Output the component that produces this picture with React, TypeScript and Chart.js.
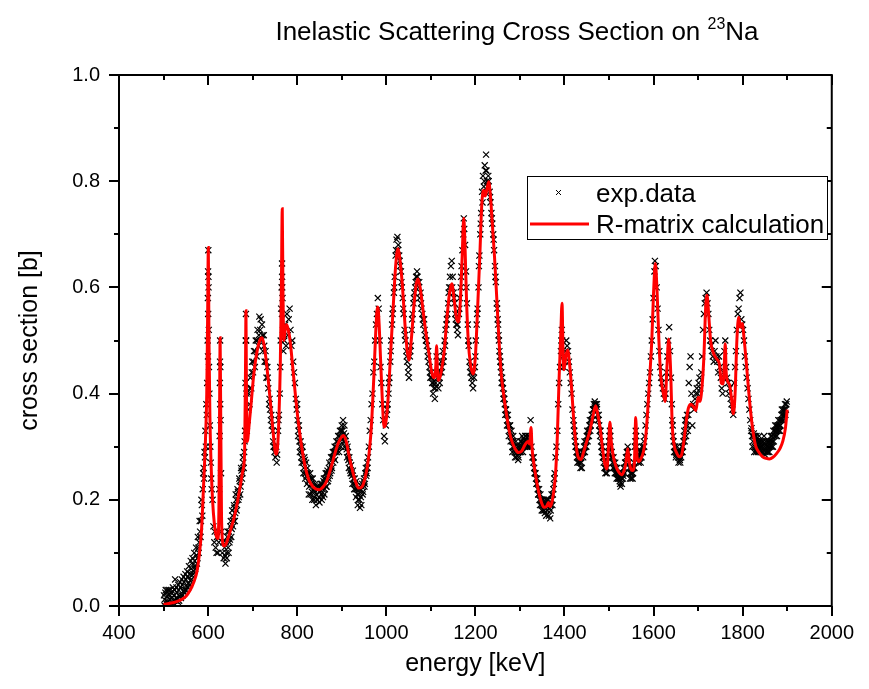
import React, { useEffect, useRef } from "react";
import { Chart, registerables } from "chart.js";

Chart.register(...registerables);

const FONT = '"Liberation Sans", Arial, Helvetica, sans-serif';

const titleMain = "Inelastic Scattering Cross Section on ";
const titleSup = "23";
const titleEnd = "Na";
const xTitle = "energy [keV]";
const yTitle = "cross section [b]";
const legendLabels = ["exp.data", "R-matrix calculation"];

const xMajor = [400, 600, 800, 1000, 1200, 1400, 1600, 1800, 2000];
const xMinor = [500, 700, 900, 1100, 1300, 1500, 1700, 1900];
const yMajor = [0, 0.2, 0.4, 0.6, 0.8, 1.0];
const yMinor = [0.1, 0.3, 0.5, 0.7, 0.9];

// R-matrix calculation (red line)
const calcEnergy = [
  500, 520, 535, 550, 560, 568, 575, 580, 585, 590, 594, 597, 599, 600.5, 602, 604, 607, 610, 614, 618,
  622, 624.5, 626, 627, 628, 630, 632, 636, 640, 645, 650, 658, 665, 672, 678, 682, 684, 685, 686, 688,
  692, 697, 703, 710, 716, 721, 726, 732, 738, 743, 748, 752, 756, 759, 762, 764.5, 766.5, 768, 770, 773,
  776, 780, 784, 790, 795, 802, 810, 818, 826, 835, 843, 850, 858, 866, 875, 883, 890, 897, 904, 910,
  916, 922, 930, 938, 945, 952, 958, 964, 968, 972, 976, 979, 981, 984, 987, 991, 995, 999, 1004, 1010,
  1016, 1021, 1026, 1031, 1036, 1042, 1047, 1051, 1056, 1062, 1067, 1071, 1076, 1082, 1088, 1095, 1102, 1107, 1111, 1113,
  1115, 1118, 1123, 1130, 1136, 1142, 1147, 1152, 1157, 1162, 1166, 1170, 1174, 1177, 1180, 1184, 1189, 1195, 1200, 1205,
  1210, 1214, 1218, 1222, 1226, 1230, 1234, 1238, 1243, 1248, 1253, 1258, 1264, 1270, 1276, 1282, 1290, 1297, 1304, 1311,
  1318, 1322, 1325, 1327, 1331, 1336, 1342, 1348, 1354, 1360, 1364, 1367, 1370, 1375, 1380, 1384, 1388, 1392, 1394.5, 1397,
  1399, 1403, 1407, 1411, 1416, 1420, 1425, 1431, 1437, 1443, 1450, 1457, 1464, 1470, 1475, 1480, 1485, 1490, 1495, 1499,
  1502, 1505, 1510, 1516, 1522, 1528, 1534, 1538, 1542, 1545, 1549, 1553, 1557, 1560, 1563, 1567, 1572, 1577, 1582, 1587,
  1592, 1596, 1600, 1604, 1608, 1612, 1616, 1621, 1626, 1630, 1634, 1638, 1642, 1647, 1652, 1658, 1663, 1668, 1673, 1678,
  1684, 1690, 1695, 1700, 1704, 1709, 1713, 1717, 1720, 1724, 1728, 1735, 1742, 1748, 1752, 1756, 1759, 1761, 1763, 1767,
  1771, 1775, 1779, 1783, 1787, 1791, 1795, 1799, 1803, 1808, 1813, 1818, 1823, 1829, 1836, 1845, 1853, 1860, 1868, 1876,
  1884, 1890, 1896, 1900,
];
const calcSigma = [
  0.003, 0.006, 0.01, 0.018, 0.03, 0.045, 0.065, 0.095, 0.14, 0.23, 0.31, 0.4, 0.55, 0.675, 0.5, 0.36, 0.26, 0.2, 0.155, 0.133,
  0.127, 0.2, 0.4, 0.505, 0.4, 0.18, 0.125, 0.113, 0.116, 0.128, 0.142, 0.165, 0.192, 0.225, 0.255, 0.29, 0.45, 0.556, 0.42, 0.31,
  0.34, 0.385, 0.44, 0.48, 0.5, 0.505, 0.49, 0.45, 0.4, 0.355, 0.31, 0.286, 0.3, 0.355, 0.45, 0.6, 0.748, 0.6, 0.5, 0.52,
  0.53, 0.52, 0.5, 0.45, 0.406, 0.35, 0.3, 0.262, 0.238, 0.225, 0.22, 0.219, 0.224, 0.235, 0.258, 0.282, 0.302, 0.315, 0.321, 0.31,
  0.285, 0.262, 0.237, 0.222, 0.224, 0.24, 0.265, 0.31, 0.36, 0.43, 0.51, 0.555, 0.563, 0.53, 0.468, 0.39, 0.337, 0.345, 0.39, 0.48,
  0.57, 0.64, 0.673, 0.65, 0.605, 0.53, 0.48, 0.463, 0.5, 0.565, 0.605, 0.616, 0.6, 0.56, 0.52, 0.48, 0.44, 0.43, 0.45, 0.49,
  0.44, 0.425, 0.44, 0.48, 0.54, 0.59, 0.607, 0.58, 0.545, 0.535, 0.57, 0.65, 0.73, 0.67, 0.58, 0.5, 0.455, 0.437, 0.47, 0.56,
  0.66, 0.75, 0.783, 0.772, 0.785, 0.799, 0.77, 0.72, 0.657, 0.58, 0.5, 0.437, 0.395, 0.36, 0.33, 0.31, 0.295, 0.289, 0.292, 0.303,
  0.31, 0.305, 0.336, 0.3, 0.27, 0.242, 0.215, 0.196, 0.186, 0.188, 0.195, 0.187, 0.19, 0.21, 0.25, 0.32, 0.43, 0.52, 0.57, 0.47,
  0.445, 0.47, 0.482, 0.46, 0.41, 0.36, 0.31, 0.28, 0.276, 0.29, 0.31, 0.33, 0.358, 0.377, 0.36, 0.336, 0.3, 0.27, 0.258, 0.3,
  0.346, 0.31, 0.28, 0.262, 0.252, 0.247, 0.255, 0.27, 0.296, 0.275, 0.258, 0.255, 0.27, 0.355, 0.28, 0.272, 0.278, 0.29, 0.315, 0.37,
  0.44, 0.5, 0.59, 0.645, 0.59, 0.5, 0.435, 0.405, 0.385, 0.45, 0.503, 0.45, 0.34, 0.3, 0.288, 0.281, 0.285, 0.31, 0.345, 0.372,
  0.38, 0.375, 0.368, 0.393, 0.385, 0.415, 0.47, 0.563, 0.585, 0.545, 0.5, 0.475, 0.465, 0.455, 0.42, 0.418, 0.46, 0.494, 0.44, 0.422,
  0.415, 0.39, 0.362, 0.4, 0.5, 0.544, 0.525, 0.532, 0.505, 0.46, 0.41, 0.365, 0.33, 0.302, 0.29, 0.281, 0.278, 0.277, 0.28, 0.287,
  0.297, 0.31, 0.335, 0.37,
];

// experimental data (black crosses): [energy keV, cross section b]
const expPoints: [number, number][] = [
  [502,0.012],[504,0.025],[506,0.005],[508,0.018],[510,0.008],[512,0.022],[514,0.012],[516,0.003],[518,0.015],[520,0.028],
  [522,0.01],[524,0.02],[526,0.05],[528,0.015],[530,0.025],[532,0.008],[534,0.03],[536,0.018],[538,0.035],[540,0.02],
  [542,0.04],[544,0.028],[546,0.045],[548,0.03],[550,0.05],[552,0.036],[554,0.055],[556,0.042],[558,0.06],[560,0.048],
  [562,0.07],[564,0.058],[566,0.078],[568,0.065],[570,0.085],[572,0.075],[574,0.095],[576,0.09],[578,0.11],[580,0.12],
  [582,0.14],[584,0.16],[586,0.19],[588,0.22],[590,0.26],[591,0.24],[592,0.29],[593,0.28],[594,0.33],[595,0.3],
  [596,0.38],[597,0.36],[598,0.42],[599,0.5],[599.5,0.58],[599.8,0.47],[600,0.63],[600.2,0.55],[600.5,0.67],[600.8,0.62],
  [601,0.6],[601.5,0.52],[602,0.45],[603,0.4],[604,0.34],[605,0.3],[606,0.27],[607,0.24],[608,0.22],[610,0.2],
  [612,0.15],[614,0.12],[615,0.14],[617,0.11],[619,0.1],[620,0.13],[622,0.1],[624,0.12],[625,0.22],[626,0.32],
  [626.5,0.42],[626.8,0.46],[627,0.5],[627.2,0.38],[627.5,0.45],[628,0.35],[629,0.25],[630,0.14],[632,0.1],[634,0.12],
  [635,0.09],[637,0.11],[638,0.095],[640,0.12],[641,0.1],[643,0.13],[645,0.11],[647,0.14],[649,0.125],[651,0.16],
  [653,0.145],[655,0.17],[657,0.16],[659,0.185],[661,0.175],[663,0.2],[665,0.19],[667,0.215],[669,0.205],[671,0.235],
  [673,0.225],[675,0.255],[677,0.25],[679,0.27],[681,0.29],[683,0.33],[684,0.42],[684.5,0.5],[685,0.55],[685.5,0.5],
  [686,0.4],[687,0.33],[689,0.35],[691,0.4],[693,0.38],[695,0.43],[697,0.41],[699,0.46],[701,0.44],[703,0.48],
  [705,0.45],[707,0.5],[709,0.47],[711,0.52],[713,0.49],[715,0.545],[717,0.52],[719,0.5],[721,0.53],[723,0.48],
  [725,0.51],[727,0.46],[729,0.48],[731,0.43],[733,0.45],[735,0.41],[737,0.38],[739,0.37],[741,0.35],[743,0.34],
  [745,0.33],[747,0.3],[749,0.29],[751,0.28],[753,0.3],[755,0.285],[757,0.33],[759,0.36],[761,0.4],[762,0.45],
  [763,0.5],[764,0.56],[765,0.6],[765.8,0.55],[766,0.645],[766.2,0.62],[766.5,0.6],[767,0.58],[768,0.52],[769,0.48],
  [771,0.5],[773,0.53],[775,0.49],[777,0.55],[779,0.51],[781,0.54],[783,0.56],[785,0.52],[787,0.49],[789,0.5],
  [791,0.46],[793,0.44],[795,0.42],[797,0.39],[799,0.37],[801,0.35],[803,0.33],[805,0.31],[807,0.3],[809,0.28],
  [811,0.29],[813,0.27],[815,0.26],[817,0.275],[819,0.25],[821,0.245],[823,0.26],[825,0.235],[827,0.225],[829,0.25],
  [831,0.23],[833,0.215],[835,0.24],[837,0.22],[839,0.205],[841,0.23],[843,0.21],[845,0.2],[847,0.225],[849,0.205],
  [851,0.215],[853,0.23],[855,0.2],[857,0.22],[859,0.235],[861,0.21],[863,0.24],[865,0.225],[867,0.25],[869,0.235],
  [871,0.26],[873,0.245],[875,0.265],[877,0.255],[879,0.28],[881,0.27],[883,0.29],[885,0.275],[887,0.3],[889,0.29],
  [891,0.31],[893,0.3],[895,0.32],[897,0.31],[899,0.33],[901,0.315],[903,0.35],[905,0.325],[907,0.31],[909,0.32],
  [911,0.295],[913,0.3],[915,0.275],[917,0.28],[919,0.255],[921,0.265],[923,0.245],[925,0.255],[927,0.23],[929,0.24],
  [931,0.22],[933,0.235],[935,0.21],[937,0.2],[939,0.22],[941,0.185],[943,0.205],[945,0.225],[947,0.21],[949,0.235],
  [951,0.225],[953,0.25],[955,0.245],[957,0.27],[959,0.28],[961,0.3],[963,0.33],[965,0.35],[967,0.38],[969,0.4],
  [971,0.44],[973,0.46],[975,0.5],[977,0.53],[979,0.55],[981,0.58],[983,0.56],[985,0.5],[987,0.45],[989,0.42],
  [991,0.38],[993,0.35],[995,0.32],[997,0.31],[999,0.34],[1001,0.36],[1003,0.38],[1005,0.4],[1007,0.43],[1009,0.46],
  [1011,0.5],[1013,0.53],[1015,0.56],[1017,0.59],[1019,0.62],[1021,0.66],[1023,0.69],[1025,0.695],[1027,0.68],[1029,0.66],
  [1031,0.64],[1033,0.63],[1035,0.6],[1037,0.58],[1039,0.55],[1041,0.52],[1043,0.5],[1045,0.48],[1047,0.46],[1049,0.44],
  [1051,0.43],[1053,0.47],[1055,0.49],[1057,0.52],[1059,0.55],[1061,0.57],[1063,0.59],[1065,0.6],[1067,0.62],[1069,0.63],
  [1071,0.61],[1073,0.6],[1075,0.58],[1077,0.59],[1079,0.56],[1081,0.55],[1083,0.53],[1085,0.54],[1087,0.51],[1089,0.5],
  [1091,0.49],[1093,0.47],[1095,0.46],[1097,0.45],[1099,0.43],[1101,0.44],[1103,0.42],[1105,0.4],[1107,0.41],[1109,0.39],
  [1111,0.42],[1113,0.47],[1115,0.43],[1117,0.41],[1119,0.43],[1121,0.44],[1123,0.46],[1125,0.45],[1127,0.48],[1129,0.47],
  [1131,0.5],[1133,0.52],[1135,0.53],[1137,0.55],[1139,0.57],[1141,0.6],[1143,0.62],[1145,0.64],[1147,0.65],[1149,0.62],
  [1151,0.59],[1153,0.57],[1155,0.55],[1157,0.53],[1159,0.52],[1161,0.51],[1163,0.55],[1165,0.58],[1167,0.6],[1169,0.64],
  [1171,0.67],[1173,0.7],[1174,0.73],[1175,0.71],[1177,0.68],[1179,0.63],[1181,0.57],[1183,0.53],[1185,0.49],[1187,0.46],
  [1189,0.44],[1191,0.43],[1193,0.42],[1195,0.41],[1197,0.43],[1199,0.45],[1201,0.5],[1203,0.53],[1205,0.56],[1207,0.6],
  [1209,0.66],[1211,0.7],[1213,0.74],[1215,0.78],[1217,0.81],[1219,0.79],[1221,0.83],[1223,0.82],[1224,0.85],[1226,0.8],
  [1228,0.79],[1230,0.8],[1232,0.78],[1234,0.76],[1236,0.74],[1238,0.72],[1240,0.7],[1242,0.67],[1244,0.64],[1246,0.61],
  [1248,0.57],[1250,0.54],[1252,0.51],[1254,0.48],[1256,0.46],[1258,0.44],[1260,0.43],[1262,0.41],[1264,0.4],[1266,0.38],
  [1268,0.37],[1270,0.36],[1272,0.35],[1274,0.34],[1276,0.33],[1278,0.34],[1280,0.32],[1282,0.31],[1284,0.3],[1286,0.31],
  [1288,0.29],[1290,0.3],[1292,0.28],[1294,0.29],[1296,0.275],[1298,0.3],[1300,0.29],[1302,0.3],[1304,0.31],[1306,0.3],
  [1308,0.315],[1310,0.305],[1312,0.32],[1314,0.31],[1316,0.3],[1318,0.32],[1320,0.31],[1322,0.3],[1324,0.35],[1326,0.3],
  [1328,0.28],[1330,0.27],[1332,0.26],[1334,0.25],[1336,0.24],[1338,0.23],[1340,0.22],[1342,0.21],[1344,0.2],[1346,0.21],
  [1348,0.19],[1350,0.2],[1352,0.18],[1354,0.19],[1356,0.175],[1358,0.2],[1360,0.19],[1362,0.18],[1364,0.2],[1366,0.185],
  [1368,0.165],[1370,0.19],[1372,0.2],[1374,0.21],[1376,0.23],[1378,0.25],[1380,0.28],[1382,0.3],[1384,0.33],[1386,0.38],
  [1388,0.42],[1390,0.45],[1392,0.48],[1393,0.5],[1394,0.52],[1395,0.5],[1396,0.47],[1398,0.45],[1400,0.46],[1402,0.48],
  [1404,0.5],[1406,0.49],[1408,0.48],[1410,0.46],[1412,0.44],[1414,0.42],[1416,0.4],[1418,0.37],[1420,0.35],[1422,0.33],
  [1424,0.31],[1426,0.3],[1428,0.28],[1430,0.29],[1432,0.27],[1434,0.28],[1436,0.26],[1438,0.27],[1440,0.29],[1442,0.28],
  [1444,0.3],[1446,0.29],[1448,0.31],[1450,0.32],[1452,0.31],[1454,0.33],[1456,0.34],[1458,0.33],[1460,0.35],[1462,0.36],
  [1464,0.37],[1466,0.38],[1468,0.385],[1470,0.38],[1472,0.375],[1474,0.36],[1476,0.35],[1478,0.34],[1480,0.32],[1482,0.31],
  [1484,0.29],[1486,0.28],[1488,0.27],[1490,0.26],[1492,0.25],[1494,0.27],[1496,0.26],[1498,0.29],[1500,0.31],[1502,0.33],
  [1504,0.3],[1506,0.29],[1508,0.27],[1510,0.28],[1512,0.26],[1514,0.27],[1516,0.25],[1518,0.26],[1520,0.24],[1522,0.25],
  [1524,0.235],[1526,0.225],[1528,0.24],[1530,0.25],[1532,0.245],[1534,0.26],[1536,0.27],[1538,0.28],[1540,0.29],[1542,0.3],
  [1544,0.28],[1546,0.26],[1548,0.25],[1550,0.24],[1552,0.26],[1554,0.25],[1556,0.27],[1558,0.3],[1560,0.33],[1562,0.3],
  [1564,0.28],[1566,0.27],[1568,0.285],[1570,0.28],[1572,0.29],[1574,0.3],[1576,0.29],[1578,0.31],[1580,0.32],[1582,0.34],
  [1584,0.36],[1586,0.38],[1588,0.4],[1590,0.42],[1592,0.44],[1594,0.47],[1596,0.5],[1598,0.54],[1600,0.58],[1602,0.63],
  [1603,0.65],[1605,0.64],[1607,0.6],[1609,0.56],[1611,0.52],[1613,0.48],[1615,0.45],[1617,0.43],[1619,0.42],[1621,0.41],
  [1623,0.4],[1625,0.39],[1627,0.4],[1629,0.44],[1631,0.47],[1633,0.5],[1635,0.525],[1637,0.48],[1639,0.43],[1641,0.38],
  [1643,0.34],[1645,0.31],[1647,0.3],[1649,0.29],[1651,0.285],[1653,0.3],[1655,0.28],[1657,0.29],[1659,0.275],[1661,0.29],
  [1663,0.3],[1665,0.29],[1667,0.31],[1669,0.33],[1671,0.35],[1673,0.32],[1675,0.36],[1677,0.33],[1679,0.42],[1681,0.45],
  [1683,0.47],[1685,0.4],[1687,0.34],[1689,0.38],[1691,0.37],[1693,0.39],[1695,0.4],[1697,0.41],[1699,0.4],[1701,0.42],
  [1703,0.43],[1705,0.41],[1707,0.44],[1709,0.47],[1711,0.52],[1713,0.55],[1715,0.57],[1717,0.58],[1719,0.59],[1721,0.57],
  [1723,0.55],[1725,0.52],[1727,0.5],[1729,0.49],[1731,0.48],[1733,0.47],[1735,0.46],[1737,0.48],[1739,0.5],[1741,0.47],
  [1743,0.46],[1745,0.44],[1747,0.47],[1749,0.45],[1751,0.43],[1753,0.41],[1755,0.4],[1757,0.44],[1759,0.48],[1761,0.5],
  [1763,0.45],[1765,0.43],[1767,0.42],[1769,0.4],[1771,0.41],[1773,0.39],[1775,0.38],[1777,0.37],[1779,0.36],[1781,0.42],
  [1783,0.45],[1785,0.48],[1787,0.52],[1789,0.55],[1791,0.56],[1793,0.58],[1795,0.59],[1797,0.54],[1799,0.53],[1801,0.52],
  [1803,0.5],[1805,0.47],[1807,0.45],[1809,0.43],[1811,0.41],[1813,0.39],[1815,0.37],[1817,0.35],[1819,0.33],[1821,0.32],
  [1823,0.31],[1825,0.325],[1827,0.3],[1829,0.31],[1831,0.32],[1833,0.3],[1835,0.31],[1837,0.32],[1839,0.3],[1841,0.31],
  [1843,0.29],[1845,0.3],[1847,0.31],[1849,0.3],[1851,0.29],[1853,0.3],[1855,0.31],[1857,0.29],[1859,0.3],[1861,0.31],
  [1863,0.32],[1865,0.3],[1867,0.31],[1869,0.33],[1871,0.32],[1873,0.34],[1875,0.33],[1877,0.32],[1879,0.34],[1881,0.33],
  [1883,0.35],[1885,0.34],[1887,0.36],[1889,0.35],[1891,0.37],[1893,0.36],[1895,0.38],[1897,0.37],[1899,0.385],
];

const expPointsExtra: [number, number][] = [
  [501,0.02],[503,0.0],[505,0.03],[507,0.01],[509,0.03],[511,0.0],[513,0.03],[515,0.02],[517,0.025],[519,0.005],
  [521,0.035],[523,0.005],[525,0.03],[527,0.01],[529,0.035],[531,0.015],[533,0.04],[535,0.01],[537,0.045],[539,0.015],
  [541,0.05],[543,0.02],[545,0.055],[547,0.025],[549,0.06],[551,0.03],[553,0.065],[555,0.035],[557,0.075],[559,0.04],
  [561,0.085],[563,0.05],[565,0.09],[567,0.06],[569,0.1],[571,0.07],[573,0.11],[575,0.08],[577,0.13],[579,0.1],
  [581,0.16],[583,0.13],[585,0.2],[587,0.17],[589,0.25],
  [639,0.08],[642,0.09],[644,0.14],[646,0.1],[648,0.12],[650,0.15],[652,0.13],[654,0.18],[656,0.15],[658,0.19],
  [660,0.16],[662,0.21],[664,0.18],[666,0.22],[668,0.2],[670,0.24],[672,0.21],[674,0.26],[676,0.24],[678,0.28],
  [680,0.26],[682,0.31],
  [690,0.37],[694,0.41],[698,0.44],[702,0.46],[706,0.48],[710,0.5],[714,0.51],[718,0.54],[722,0.51],[726,0.49],
  [730,0.46],[734,0.43],[738,0.39],[742,0.36],[746,0.31],[750,0.3],[754,0.27],[758,0.35],
  [800,0.38],[802,0.32],[804,0.34],[806,0.29],[808,0.31],[810,0.27],[812,0.3],[814,0.25],[816,0.28],[818,0.24],
  [820,0.27],[822,0.23],[824,0.25],[826,0.21],[828,0.24],[830,0.21],[832,0.24],[834,0.2],[836,0.23],[838,0.2],
  [840,0.215],[842,0.19],[844,0.225],[846,0.2],[848,0.22],[850,0.195],[852,0.225],[854,0.21],[856,0.23],[858,0.205],
  [860,0.24],[862,0.22],[864,0.25],[866,0.225],[868,0.255],[870,0.24],[872,0.27],[874,0.25],[876,0.28],[878,0.26],
  [880,0.29],[882,0.28],[884,0.3],[886,0.29],[888,0.31],
  [892,0.32],[894,0.29],[896,0.33],[898,0.3],[900,0.34],[902,0.33],[904,0.31],[906,0.34],[908,0.3],[910,0.305],
  [912,0.28],[914,0.29],[916,0.26],[918,0.27],[920,0.25],[922,0.25],[924,0.23],[926,0.24],[928,0.22],[930,0.23],
  [932,0.205],[934,0.22],[936,0.19],[938,0.21],[940,0.2],[942,0.22],[944,0.19],[946,0.23],[948,0.215],[950,0.24],
  [952,0.23],[954,0.26],[956,0.25],[958,0.26],
  [1002,0.37],[1006,0.42],[1010,0.48],[1014,0.55],[1018,0.6],[1022,0.67],[1026,0.67],[1030,0.65],[1034,0.61],[1038,0.56],
  [1042,0.51],[1046,0.47],[1050,0.45],[1054,0.48],[1058,0.54],[1062,0.58],[1066,0.61],[1070,0.62],[1074,0.61],[1078,0.57],
  [1082,0.54],[1086,0.52],[1090,0.5],[1094,0.48],[1098,0.44],[1102,0.43],[1106,0.42],[1110,0.41],[1120,0.42],[1124,0.44],
  [1128,0.46],[1132,0.49],[1136,0.54],[1140,0.59],[1144,0.6],[1148,0.6],[1152,0.58],[1156,0.54],[1160,0.53],[1164,0.56],
  [1168,0.62],[1180,0.6],[1184,0.5],[1188,0.45],[1192,0.44],[1196,0.44],[1200,0.47],[1204,0.55],[1208,0.64],[1212,0.72],
  [1216,0.76],[1220,0.8],[1225,0.82],[1229,0.81],[1233,0.77],[1237,0.73],[1241,0.69],[1245,0.62],[1249,0.56],
  [1251,0.53],[1253,0.5],[1255,0.47],[1257,0.45],[1259,0.42],[1261,0.42],[1263,0.39],[1265,0.39],[1267,0.36],[1269,0.37],
  [1271,0.34],[1273,0.36],[1275,0.32],[1277,0.34],[1279,0.31],[1281,0.33],[1283,0.29],[1285,0.32],[1287,0.3],[1289,0.28],
  [1291,0.31],[1293,0.29],[1295,0.3],[1297,0.28],[1299,0.29],[1301,0.31],[1303,0.29],[1305,0.32],[1307,0.29],[1309,0.31],
  [1311,0.3],[1313,0.32],[1315,0.305],[1317,0.31],[1319,0.3],[1321,0.32],
  [1331,0.28],[1333,0.25],[1335,0.25],[1337,0.23],[1339,0.24],[1341,0.21],[1343,0.22],[1345,0.19],[1347,0.2],[1349,0.18],
  [1351,0.19],[1353,0.2],[1355,0.18],[1357,0.19],[1359,0.17],[1361,0.2],[1363,0.19],[1365,0.17],[1367,0.19],[1369,0.18],
  [1371,0.21],[1373,0.19],[1375,0.22],[1377,0.24],
  [1421,0.34],[1423,0.32],[1425,0.3],[1427,0.29],[1429,0.27],[1431,0.28],[1433,0.29],[1435,0.27],[1437,0.28],[1439,0.26],
  [1441,0.29],[1443,0.29],[1445,0.31],[1447,0.3],[1449,0.3],[1451,0.33],[1453,0.32],[1455,0.32],[1457,0.35],[1459,0.34],
  [1461,0.36],[1463,0.35],[1465,0.37],[1467,0.37],[1469,0.38],[1471,0.37],[1473,0.38],[1475,0.35],[1477,0.36],[1479,0.33],
  [1481,0.33],[1483,0.3],[1485,0.3],[1487,0.28],[1489,0.28],[1491,0.26],[1493,0.26],[1495,0.25],[1497,0.28],[1499,0.3],
  [1501,0.32],[1503,0.32],[1505,0.28],[1507,0.28],[1509,0.26],[1511,0.27],[1513,0.25],[1515,0.26],[1517,0.24],[1519,0.25],
  [1521,0.24],[1523,0.24],[1525,0.23],[1527,0.25],[1529,0.23],[1531,0.24],[1533,0.26],[1535,0.25],[1537,0.27],[1539,0.27],
  [1541,0.29],[1543,0.29],[1545,0.27],[1547,0.24],[1549,0.26],[1551,0.25],[1553,0.24],[1555,0.26],[1557,0.26],[1559,0.31],
  [1561,0.32],[1563,0.29],[1565,0.28],[1567,0.27],[1569,0.29],[1571,0.27],[1573,0.28],[1575,0.29],[1577,0.3],[1579,0.3],
  [1642,0.35],[1644,0.32],[1646,0.29],[1648,0.3],[1650,0.28],[1652,0.29],[1654,0.29],[1656,0.27],[1658,0.28],[1660,0.27],
  [1662,0.28],[1664,0.29],[1666,0.3],[1668,0.32],[1670,0.31],[1672,0.34],[1674,0.35],[1676,0.34],[1678,0.36],
  [1820,0.335],[1822,0.3],[1824,0.32],[1826,0.29],[1828,0.32],[1830,0.29],[1832,0.31],[1834,0.29],[1836,0.3],[1838,0.31],
  [1840,0.29],[1842,0.3],[1844,0.31],[1846,0.29],[1848,0.32],[1850,0.285],[1852,0.31],[1854,0.29],[1856,0.3],[1858,0.31],
  [1860,0.29],[1862,0.3],[1864,0.31],[1866,0.32],[1868,0.3],[1870,0.31],[1872,0.33],[1874,0.32],[1876,0.34],[1878,0.33],
  [1880,0.35],[1882,0.34],[1884,0.33],[1886,0.35],[1888,0.37],[1890,0.36],[1892,0.35],[1894,0.37],[1896,0.36],[1898,0.38],
];

const W = 869;
const H = 689;
const PLOT_LEFT = 119;
const PLOT_RIGHT = 839;
const PLOT_TOP = 75;
const PLOT_BOTTOM = 606;

const framePlugin = {
  id: "frameTicks",
  afterDatasetsDraw(chart: any) {
    const { ctx, chartArea: a, scales } = chart;
    const xs = scales.x;
    const ys = scales.y;
    ctx.save();
    ctx.strokeStyle = "#000";
    ctx.lineWidth = 2;
    ctx.strokeRect(a.left, a.top, a.right - a.left, a.bottom - a.top);
    ctx.beginPath();
    const xt = (vals: number[], len: number) => {
      for (const v of vals) {
        const p = Math.round(xs.getPixelForValue(v));
        ctx.moveTo(p, a.bottom);
        ctx.lineTo(p, a.bottom + len);
        ctx.moveTo(p, a.top);
        ctx.lineTo(p, a.top + len);
      }
    };
    const yt = (vals: number[], len: number) => {
      for (const v of vals) {
        const p = Math.round(ys.getPixelForValue(v));
        ctx.moveTo(a.left, p);
        ctx.lineTo(a.left - len, p);
        ctx.moveTo(a.right, p);
        ctx.lineTo(a.right - len, p);
      }
    };
    xt(xMajor, 10);
    xt(xMinor, 5);
    yt(yMajor, 10);
    yt(yMinor, 5);
    ctx.stroke();
    ctx.restore();
  },
};

const textPlugin = {
  id: "texts",
  afterDraw(chart: any) {
    const { ctx, chartArea: a } = chart;
    ctx.save();
    ctx.fillStyle = "#000";
    ctx.textBaseline = "alphabetic";
    ctx.textAlign = "left";
    // title with superscript
    const big = `26px ${FONT}`;
    const small = `16px ${FONT}`;
    ctx.font = big;
    const w1 = ctx.measureText(titleMain).width;
    const w3 = ctx.measureText(titleEnd).width;
    ctx.font = small;
    const w2 = ctx.measureText(titleSup).width;
    const total = w1 + w2 + w3;
    let x = 517 - total / 2;
    const base = 40;
    ctx.font = big;
    ctx.fillText(titleMain, x, base);
    x += w1;
    ctx.font = small;
    ctx.fillText(titleSup, x, base - 11);
    x += w2;
    ctx.font = big;
    ctx.fillText(titleEnd, x, base);

    // axis titles
    ctx.font = `25px ${FONT}`;
    ctx.textAlign = "center";
    ctx.textBaseline = "middle";
    ctx.fillText(xTitle, (a.left + a.right) / 2, 664);
    ctx.save();
    ctx.translate(30, (a.top + a.bottom) / 2);
    ctx.rotate(-Math.PI / 2);
    ctx.fillText(yTitle, 0, 0);
    ctx.restore();

    // legend
    const bx = 527.5, by = 176.5, bw = 300, bh = 63;
    ctx.fillStyle = "#fff";
    ctx.fillRect(bx, by, bw, bh);
    ctx.strokeStyle = "#000";
    ctx.lineWidth = 1;
    ctx.strokeRect(bx, by, bw, bh);
    // cross marker
    const mx = 558.5, my = 192.5, r = 2.5;
    ctx.beginPath();
    ctx.moveTo(mx - r, my - r);
    ctx.lineTo(mx + r, my + r);
    ctx.moveTo(mx - r, my + r);
    ctx.lineTo(mx + r, my - r);
    ctx.stroke();
    // red line
    ctx.strokeStyle = "#ff0000";
    ctx.lineWidth = 3;
    ctx.beginPath();
    ctx.moveTo(530, 224);
    ctx.lineTo(589, 224);
    ctx.stroke();
    ctx.fillStyle = "#000";
    ctx.font = `26px ${FONT}`;
    ctx.textAlign = "left";
    ctx.textBaseline = "alphabetic";
    ctx.fillText(legendLabels[0], 596, 202);
    ctx.fillText(legendLabels[1], 596, 233);
    ctx.restore();
  },
};

export default function App() {
  const canvasRef = useRef<HTMLCanvasElement | null>(null);

  useEffect(() => {
    const canvas = canvasRef.current;
    if (!canvas) return;
    const chart = new Chart(canvas, {
      type: "scatter",
      data: {
        datasets: [
          {
            label: legendLabels[0],
            data: expPoints.concat(expPointsExtra).map(([x, y]) => ({ x, y })),
            pointStyle: "crossRot",
            pointRadius: 4.3,
            pointBorderWidth: 1.2,
            borderColor: "#000",
            backgroundColor: "#000",
            showLine: false,
            order: 2,
          },
          {
            label: legendLabels[1],
            data: calcEnergy.map((x, i) => ({ x, y: calcSigma[i] })),
            showLine: true,
            borderColor: "#ff0000",
            borderWidth: 3,
            pointRadius: 0,
            cubicInterpolationMode: "monotone",
            fill: false,
            order: 1,
          },
        ],
      },
      options: {
        animation: false,
        responsive: false,
        maintainAspectRatio: false,
        layout: { padding: { top: PLOT_TOP, right: W - PLOT_RIGHT, left: 0, bottom: 0 } },
        plugins: {
          legend: { display: false },
          title: { display: false },
          tooltip: { enabled: false },
        },
        scales: {
          x: {
            type: "linear",
            min: 400,
            max: 2000,
            grid: { display: false, drawTicks: false },
            border: { display: false },
            ticks: {
              stepSize: 200,
              color: "#000",
              font: { family: FONT, size: 20 },
              padding: 15,
              maxRotation: 0,
              autoSkip: false,
              callback: (v: any) => String(Math.round(Number(v))),
            },
            afterFit: (s: any) => {
              s.height = H - PLOT_BOTTOM;
            },
          },
          y: {
            type: "linear",
            min: 0,
            max: 1,
            grid: { display: false, drawTicks: false },
            border: { display: false },
            ticks: {
              stepSize: 0.2,
              color: "#000",
              font: { family: FONT, size: 20 },
              padding: 19,
              callback: (v: any) => Number(v).toFixed(1),
            },
            afterFit: (s: any) => {
              s.width = PLOT_LEFT;
            },
          },
        },
      },
      plugins: [framePlugin, textPlugin],
    });
    return () => chart.destroy();
  }, []);

  return (
    <div style={{ position: "fixed", left: 0, top: 0, width: W, height: H, background: "#fff" }}>
      <canvas ref={canvasRef} width={W} height={H} style={{ display: "block", width: W, height: H }} />
    </div>
  );
}
